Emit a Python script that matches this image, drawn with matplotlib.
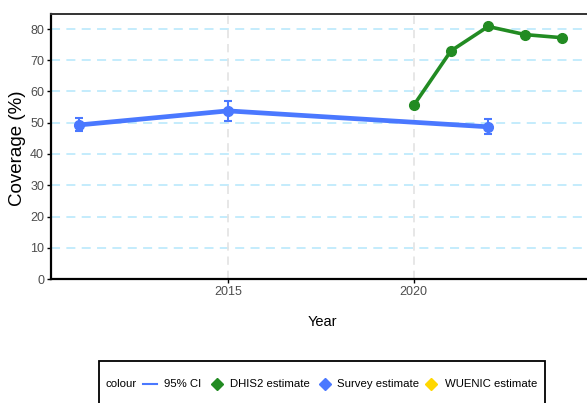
import matplotlib
matplotlib.use("Agg")
from matplotlib import pyplot as plt
from matplotlib.lines import Line2D
from matplotlib.patches import Rectangle

# Survey estimates with 95% CI
survey_years = [2011, 2015, 2022]
survey_cov = [49.3, 53.8, 48.7]
survey_lo = [47.2, 50.5, 46.3]
survey_hi = [51.6, 57.1, 51.1]

# DHIS2 estimates
dhis_years = [2020, 2021, 2022, 2023, 2024]
dhis_cov = [55.6, 73.0, 80.8, 78.2, 77.2]

y_ticks = [0, 10, 20, 30, 40, 50, 60, 70, 80]
x_ticks = [2015, 2020]

legend_labels = ['95% CI', 'DHIS2 estimate', 'Survey estimate', 'WUENIC estimate']
legend_colors = ['#4a78ff', '#228b22', '#4a78ff', '#ffd700']

blue = '#4a78ff'
green = '#228b22'
font = ['Liberation Sans', 'DejaVu Sans']

fig = plt.figure(figsize=(5.87, 4.03), dpi=100)
fig.patch.set_facecolor('white')
ax = fig.add_axes([51/587, 1 - 279/403, 1 - 51/587, 265/403])

# grid
for y in y_ticks[1:]:
	ax.axhline(y, color='#bfebfc', lw=1.3, ls=(0, (5, 3.5)), zorder=0)
for x in x_ticks:
	ax.axvline(x, color='#e3e3e3', lw=1.2, ls=(0, (5, 3.5)), zorder=0)

# survey line + CI
ax.plot(survey_years, survey_cov, color=blue, lw=3.4, zorder=3)
err_lo = [c - l for c, l in zip(survey_cov, survey_lo)]
err_hi = [h - c for c, h in zip(survey_cov, survey_hi)]
ax.errorbar(survey_years, survey_cov, yerr=[err_lo, err_hi], fmt='o', color=blue,
	ms=7, elinewidth=1.5, capsize=3, capthick=1.5, zorder=4)

# DHIS2 line
ax.plot(dhis_years, dhis_cov, color=green, lw=2.6, marker='o', ms=7, zorder=3)

ax.set_xlim(2010.24, 2024.66)
ax.set_ylim(0, 84.8)
ax.set_xticks(x_ticks)
ax.set_yticks(y_ticks)
ax.set_xticklabels([str(x) for x in x_ticks], family=font, fontsize=9, color='#4d4d4d')
ax.set_yticklabels([str(y) for y in y_ticks], family=font, fontsize=9, color='#4d4d4d')
ax.tick_params(axis='both', length=3, width=1, color='black', pad=2)

for side in ['left', 'bottom']:
	ax.spines[side].set_linewidth(1.6)
	ax.spines[side].set_color('black')
ax.spines['top'].set_linewidth(1.4)
ax.spines['top'].set_color('#333333')
ax.spines['right'].set_visible(False)

fig.text(18/587, 1 - 148/403, 'Coverage (%)', rotation=90, ha='center', va='center',
	family=font, fontsize=13.5)
fig.text(322/587, 1 - 322/403, 'Year', ha='center', va='center',
	family=font, fontsize=10.5)

# legend box, cut off by the figure bottom
fig.patches.append(Rectangle((99/587, -0.05), (545 - 99)/587, 0.05 + (403 - 361)/403,
	transform=fig.transFigure, fill=False, ec='black', lw=1.3))
ly = 1 - 384/403
fig.text(105/587, ly, 'colour', family=font, fontsize=8.2, va='center')
key_x = [150, 217, 325, 431]
text_x = [164, 230, 337, 445]
for i, lab in enumerate(legend_labels):
	if i == 0:
		key = Line2D([(key_x[i] - 7)/587, (key_x[i] + 7)/587], [ly, ly],
			color=legend_colors[i], lw=1.5, transform=fig.transFigure)
	else:
		key = Line2D([key_x[i]/587], [ly], color=legend_colors[i], marker='D', ms=6,
			ls='none', transform=fig.transFigure)
	fig.lines.append(key)
	fig.text(text_x[i]/587, ly, lab, family=font, fontsize=8.2, va='center')

fig.savefig('out.png', dpi=100)
